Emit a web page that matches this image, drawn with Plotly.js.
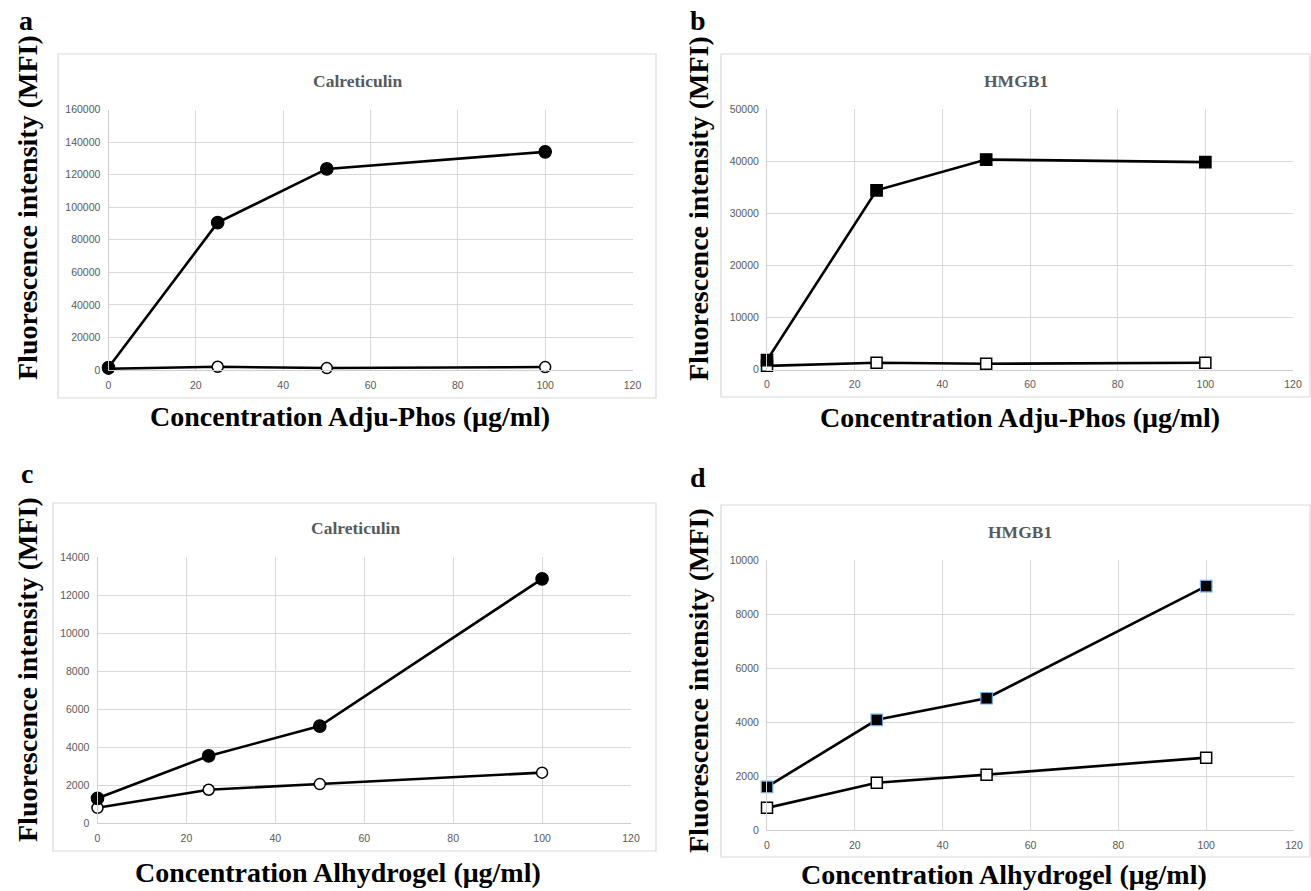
<!DOCTYPE html>
<html>
<head>
<meta charset="utf-8">
<script src="https://cdn.plot.ly/plotly-3.0.1.min.js"></script>
<style>html,body{margin:0;padding:0;background:#fff;}#chart{width:1311px;height:891px;}</style>
</head>
<body>
<div id="chart"></div>
<script>
// ---- data ----
const conc = [0, 25, 50, 100];
const xTicks = [0, 20, 40, 60, 80, 100, 120];
const crtAdjuTreated = [1500, 90500, 123500, 134000];
const crtAdjuControl = [800, 2000, 1200, 1800];
const hmgbAdjuTreated = [1800, 34400, 40300, 39800];
const hmgbAdjuControl = [700, 1300, 1100, 1300];
const crtAlhyTreated = [1300, 3530, 5100, 12850];
const crtAlhyControl = [800, 1750, 2050, 2650];
const hmgbAlhyTreated = [1600, 4080, 4880, 9030];
const hmgbAlhyControl = [820, 1750, 2050, 2680];
const panelLetters = ['a', 'b', 'c', 'd'];
const panelTitles = ['Calreticulin', 'HMGB1', 'Calreticulin', 'HMGB1'];
const xTitles = ['Concentration Adju-Phos (\u03bcg/ml)', 'Concentration Adju-Phos (\u03bcg/ml)',
                 'Concentration Alhydrogel (\u03bcg/ml)', 'Concentration Alhydrogel (\u03bcg/ml)'];
const yTitle = 'Fluorescence intensity (MFI)';
const yMax = [160000, 50000, 14000, 10000];
const yStep = [20000, 10000, 2000, 2000];

// ---- geometry (pixels) ----
const W = 1311, H = 891;
const px = v => v / W;
const py = v => 1 - v / H;
const geo = [
  {x0: 108.5, x1: 632.5, yt: 109.5, yb: 370, box: [58, 54, 656, 398], tx: 357, ty: 81, xtx: 350, xty: 416, ytx: 27, yty: 208, lx: 26, ly: 20},
  {x0: 767, x1: 1293, yt: 109, yb: 369.5, box: [721, 54, 1310, 397], tx: 1016, ty: 81, xtx: 1020, xty: 417, ytx: 698, yty: 208, lx: 698, ly: 20},
  {x0: 97.5, x1: 631, yt: 557, yb: 823, box: [53, 503, 656, 851], tx: 355, ty: 528, xtx: 338, xty: 872, ytx: 27, yty: 670, lx: 27, ly: 473},
  {x0: 767, x1: 1294, yt: 560, yb: 830, box: [721, 505, 1310, 857], tx: 1020, ty: 532, xtx: 1004, xty: 874, ytx: 698, yty: 680, lx: 698, ly: 477}
];

const series = [
  [crtAdjuTreated, crtAdjuControl, 'circle'],
  [hmgbAdjuTreated, hmgbAdjuControl, 'square'],
  [crtAlhyTreated, crtAlhyControl, 'circle'],
  [hmgbAlhyTreated, hmgbAlhyControl, 'square']
];

const traces = [];
const layout = {
  width: W, height: H,
  margin: {l: 0, r: 0, t: 0, b: 0},
  paper_bgcolor: '#ffffff', plot_bgcolor: '#ffffff',
  showlegend: false,
  shapes: [], annotations: []
};

const serif = 'Liberation Serif, Times New Roman, serif';
const tickFont = {family: 'Liberation Sans, Arial, sans-serif', size: 10.5, color: '#595959'};

geo.forEach((g, i) => {
  const n = i === 0 ? '' : String(i + 1);
  const xa = 'x' + n, ya = 'y' + n;
  const [treated, control, sym] = series[i];
  const treatedLineColor = i === 3 ? '#6fa8dc' : '#000000';
  traces.push({
    x: conc, y: control, xaxis: xa, yaxis: ya, type: 'scatter', mode: 'lines+markers',
    line: {color: '#000000', width: 2.6},
    marker: {symbol: sym, size: sym === 'circle' ? 11 : 11, color: '#ffffff', line: {color: '#000000', width: 1.5}},
    cliponaxis: false
  });
  traces.push({
    x: conc, y: treated, xaxis: xa, yaxis: ya, type: 'scatter', mode: 'lines+markers',
    line: {color: '#000000', width: 2.6},
    marker: {symbol: sym, size: sym === 'circle' ? 12.5 : 11.5, color: '#000000', line: {color: treatedLineColor, width: 1.2}},
    cliponaxis: false
  });
  layout['xaxis' + n] = {
    domain: [px(g.x0), px(g.x1)], anchor: ya, range: [0, 120],
    tickvals: xTicks, ticktext: xTicks.map(String),
    showgrid: true, gridcolor: '#d9d9d9', gridwidth: 1,
    zeroline: false, showline: true, linecolor: '#cfcfcf', linewidth: 1,
    ticks: '', tickfont: tickFont, ticklabelstandoff: 5, fixedrange: true
  };
  layout['yaxis' + n] = {
    domain: [py(g.yb), py(g.yt)], anchor: xa, range: [0, yMax[i]],
    dtick: yStep[i], tick0: 0, tickformat: 'd',
    showgrid: true, gridcolor: '#d9d9d9', gridwidth: 1,
    zeroline: false, showline: true, linecolor: '#cfcfcf', linewidth: 1,
    ticks: '', tickfont: tickFont, ticklabelstandoff: 5, fixedrange: true
  };
  // chart border
  layout.shapes.push({
    type: 'rect', xref: 'paper', yref: 'paper',
    x0: px(g.box[0]), x1: px(g.box[2]), y0: py(g.box[3]), y1: py(g.box[1]),
    line: {color: '#d9d9d9', width: 1.2}, fillcolor: 'rgba(0,0,0,0)', layer: 'below'
  });
  // chart title
  layout.annotations.push({
    xref: 'paper', yref: 'paper', x: px(g.tx), y: py(g.ty), xanchor: 'center', yanchor: 'middle',
    text: '<b>' + panelTitles[i] + '</b>', showarrow: false,
    font: {family: serif, size: 17.5, color: '#595959'}
  });
  // x axis title
  layout.annotations.push({
    xref: 'paper', yref: 'paper', x: px(g.xtx), y: py(g.xty), xanchor: 'center', yanchor: 'middle',
    text: '<b>' + xTitles[i] + '</b>', showarrow: false,
    font: {family: serif, size: 28, color: '#000000'}
  });
  // y axis title
  layout.annotations.push({
    xref: 'paper', yref: 'paper', x: px(g.ytx), y: py(g.yty), xanchor: 'center', yanchor: 'middle',
    text: '<b>' + yTitle + '</b>', showarrow: false, textangle: -90,
    font: {family: serif, size: 28, color: '#000000'}
  });
  // panel letter
  layout.annotations.push({
    xref: 'paper', yref: 'paper', x: px(g.lx), y: py(g.ly), xanchor: 'center', yanchor: 'middle',
    text: '<b>' + panelLetters[i] + '</b>', showarrow: false,
    font: {family: serif, size: 28, color: '#000000'}
  });
});

Plotly.newPlot('chart', traces, layout, {staticPlot: true, displayModeBar: false});
</script>
</body>
</html>
